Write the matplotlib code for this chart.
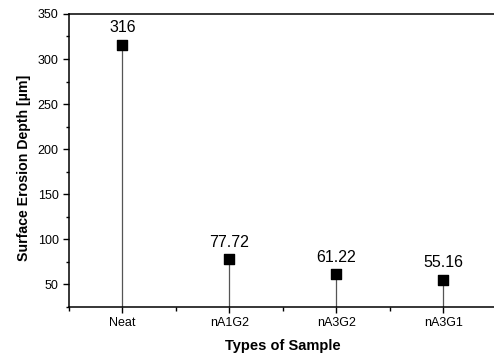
import matplotlib
matplotlib.use("Agg")
import matplotlib.pyplot as plt
from matplotlib.ticker import MultipleLocator

# ── Data ──────────────────────────────────────────────────────────────────────
samples = ["Neat", "nA1G2", "nA3G2", "nA3G1"]
depth   = [316, 77.72, 61.22, 55.16]
labels  = ["316", "77.72", "61.22", "55.16"]

plt.rcParams["font.family"] = ["Liberation Sans", "DejaVu Sans"]

fig = plt.figure(figsize=(4.94, 3.57), dpi=100)
ax = fig.add_axes([0.1397, 0.14, 0.866, 0.821])

x = list(range(1, len(samples) + 1))
ymin = 25
ax.vlines(x, ymin, depth, color="#555555", linewidth=0.9, zorder=2)
ax.scatter(x, depth, marker="s", s=52, color="black", zorder=3)

for xi, yi, lab in zip(x, depth, labels):
    ax.annotate(lab, (xi, yi), textcoords="offset points", xytext=(0, 7),
                ha="center", va="bottom", fontsize=11.5)

ax.set_xlim(0.5, 4.5)
ax.set_ylim(ymin, 350)
ax.set_xticks(x)
ax.set_xticklabels(samples)
ax.xaxis.set_minor_locator(MultipleLocator(0.5))
ax.yaxis.set_major_locator(MultipleLocator(50))
ax.yaxis.set_minor_locator(MultipleLocator(25))
ax.tick_params(which="major", direction="out", length=4, width=1, labelsize=9)
ax.tick_params(which="minor", direction="out", length=2.5, width=1)
ax.tick_params(axis="x", which="minor", length=3)
ax.tick_params(axis="x", which="major", pad=3.5)

for s in ["left", "bottom", "top"]:
    ax.spines[s].set_linewidth(1.1)
ax.spines["right"].set_visible(False)

ax.set_xlabel("Types of Sample", fontsize=10.5, fontweight="bold", va="center")
ax.xaxis.set_label_coords(0.5, -0.133)
ax.set_ylabel("Surface Erosion Depth [\u00b5m]", fontsize=10.2, fontweight="bold")
ax.yaxis.set_label_coords(-0.089, 0.474)

fig.savefig("out.png", dpi=100)
